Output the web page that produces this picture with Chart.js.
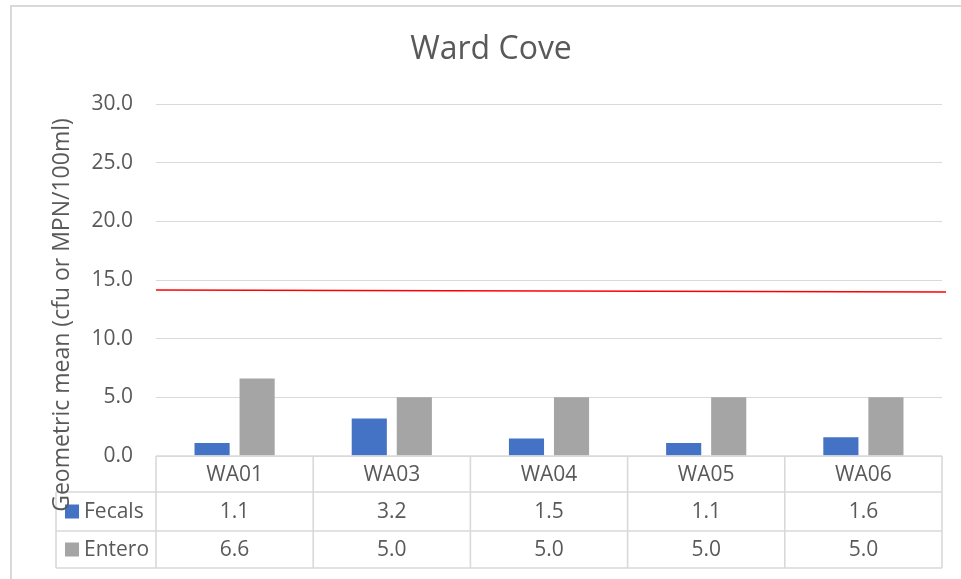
<!DOCTYPE html>
<html>
<head>
<meta charset="utf-8">
<title>Ward Cove</title>
<script src="https://cdn.jsdelivr.net/npm/chart.js@4/dist/chart.umd.min.js"></script>
<style>
  html, body { margin: 0; padding: 0; background: #fff; }
  #wrap { width: 961px; height: 579px; position: relative; }
</style>
</head>
<body>
<div id="wrap"><canvas id="wardChart"></canvas></div>
<script>
// ── data ──
const stations = ['WA01', 'WA03', 'WA04', 'WA05', 'WA06'];
const fecals   = [1.1, 3.2, 1.5, 1.1, 1.6];
const entero   = [6.6, 5.0, 5.0, 5.0, 5.0];
const limitLine = [14.15, 13.98];   // red reference line, value at left / right edge
const yTicks   = [0, 5, 10, 15, 20, 25, 30];

const FONT  = "'Open Sans', 'Noto Sans', sans-serif";
const TEXT  = '#595959';
const RULE  = '#d9d9d9';
const BLUE  = '#4472c4';
const GREY  = '#a5a5a5';

// red reference line across the whole plot area, placed by the y scale
const limitPlugin = {
  id: 'limit',
  afterDatasetsDraw(chart) {
    const { ctx, chartArea, scales } = chart;
    ctx.save();
    ctx.strokeStyle = '#ff0000';
    ctx.lineWidth = 1.5;
    ctx.beginPath();
    ctx.moveTo(chartArea.left, scales.y.getPixelForValue(limitLine[0]));
    ctx.lineTo(chartArea.right + 4, scales.y.getPixelForValue(limitLine[1]));
    ctx.stroke();
    ctx.restore();
  }
};

// title, frame, data table and rotated axis title
const decorPlugin = {
  id: 'decor',
  afterDraw(chart) {
    const { ctx, chartArea, scales } = chart;
    const x0 = chartArea.left, x1 = chartArea.right;
    const colW = (x1 - x0) / stations.length;
    const top = scales.y.getPixelForValue(0);
    const rows = [top, top + 36, top + 75, top + 112];
    const tblLeft = 56;

    ctx.save();

    // outer frame (left + top edges visible)
    ctx.strokeStyle = RULE;
    ctx.lineWidth = 2;
    ctx.beginPath();
    ctx.moveTo(11, chart.height);
    ctx.lineTo(11, 6);
    ctx.lineTo(chart.width, 6);
    ctx.stroke();

    // title
    ctx.fillStyle = TEXT;
    ctx.font = '32px ' + FONT;
    ctx.textAlign = 'center';
    ctx.textBaseline = 'middle';
    ctx.fillText('Ward Cove', 491, 50);

    // table grid
    ctx.strokeStyle = RULE;
    ctx.lineWidth = 1.6;
    ctx.beginPath();
    ctx.moveTo(x0, rows[0]); ctx.lineTo(x1, rows[0]);
    for (let r = 1; r < rows.length; r++) {
      ctx.moveTo(tblLeft, rows[r]); ctx.lineTo(x1, rows[r]);
    }
    ctx.moveTo(tblLeft, rows[1]); ctx.lineTo(tblLeft, rows[3]);
    for (let i = 0; i <= stations.length; i++) {
      const cx = x0 + i * colW;
      ctx.moveTo(cx, rows[0]); ctx.lineTo(cx, rows[3]);
    }
    ctx.stroke();

    // table text
    ctx.fillStyle = TEXT;
    ctx.font = '21px ' + FONT;
    ctx.textAlign = 'center';
    ctx.textBaseline = 'middle';
    const series = [fecals, entero];
    stations.forEach((name, i) => {
      const cx = x0 + (i + 0.5) * colW;
      ctx.fillText(name, cx, (rows[0] + rows[1]) / 2 + 1);
      series.forEach((vals, s) => {
        ctx.fillText(vals[i].toFixed(1), cx, (rows[s + 1] + rows[s + 2]) / 2 + 1);
      });
    });

    // legend keys in the table
    chart.data.datasets.forEach((ds, s) => {
      const cy = (rows[s + 1] + rows[s + 2]) / 2;
      ctx.fillStyle = ds.backgroundColor;
      ctx.fillRect(65, cy - 7, 14, 14);
      ctx.fillStyle = TEXT;
      ctx.textAlign = 'left';
      ctx.fillText(ds.label, 84, cy + 1);
    });

    // rotated y-axis title
    ctx.translate(62, 315);
    ctx.rotate(-Math.PI / 2);
    ctx.font = '23px ' + FONT;
    ctx.textAlign = 'center';
    ctx.textBaseline = 'middle';
    ctx.fillStyle = TEXT;
    ctx.fillText('Geometric mean (cfu or MPN/100ml)', 0, 0);

    ctx.restore();
  }
};

new Chart(document.getElementById('wardChart').getContext('2d'), {
  type: 'bar',
  data: {
    labels: stations,
    datasets: [
      { label: 'Fecals', data: fecals, backgroundColor: BLUE, borderWidth: 0 },
      { label: 'Entero', data: entero, backgroundColor: GREY, borderWidth: 0 }
    ]
  },
  options: {
    responsive: true,
    maintainAspectRatio: false,
    animation: false,
    categoryPercentage: 0.573,
    barPercentage: 0.78,
    layout: { padding: { left: 0, right: 19, top: 104, bottom: 0 } },
    plugins: { legend: { display: false }, tooltip: { enabled: false }, title: { display: false } },
    scales: {
      x: {
        ticks: { display: false },
        grid: { display: false },
        border: { display: false },
        afterFit(scale) { scale.height = 123; }
      },
      y: {
        min: yTicks[0], max: yTicks[yTicks.length - 1],
        afterBuildTicks(scale) { scale.ticks = yTicks.map(v => ({ value: v })); },
        ticks: {
          callback: v => Number(v).toFixed(1),
          color: TEXT, font: { family: FONT, size: 21 }, padding: 23
        },
        grid: { color: RULE, lineWidth: 1, drawTicks: false },
        border: { display: false },
        afterFit(scale) { scale.width = 156; }
      }
    }
  },
  plugins: [limitPlugin, decorPlugin]
});
</script>
</body>
</html>
